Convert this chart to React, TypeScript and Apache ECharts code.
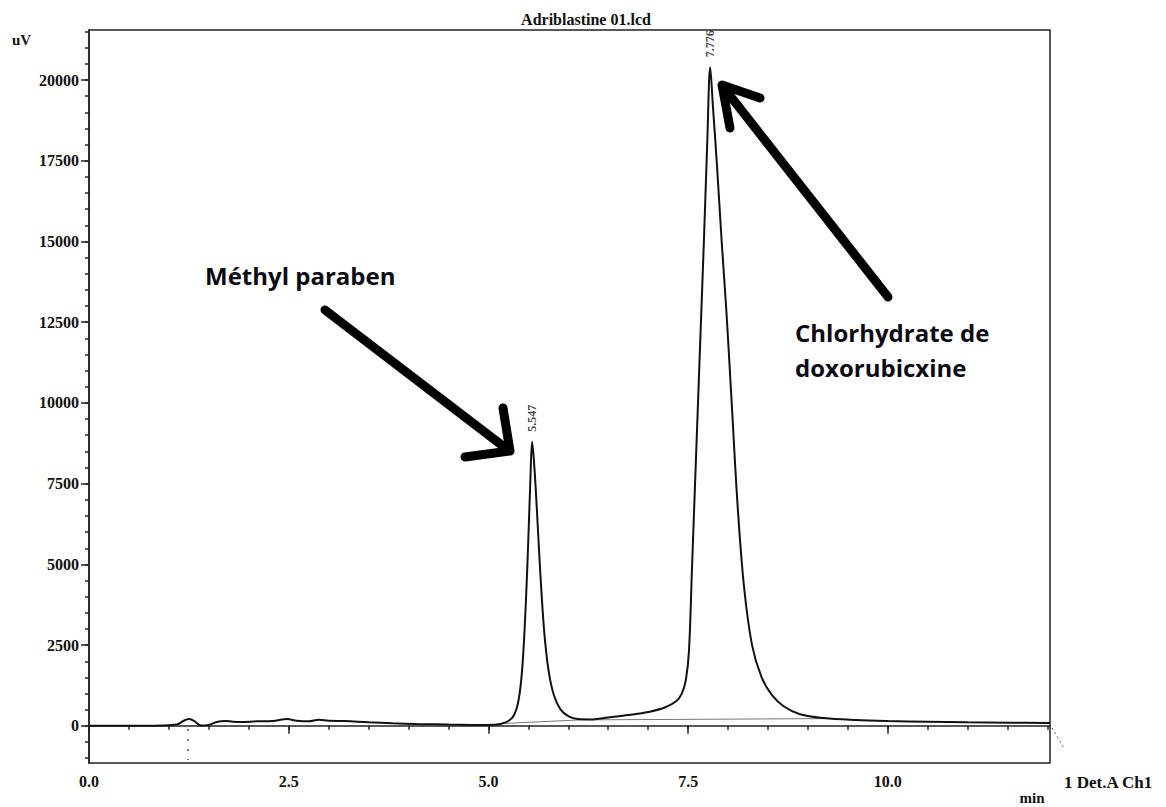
import React, { useEffect, useRef } from "react";
import * as echarts from "echarts";

const times = [0, 0.3, 0.6, 0.9, 1.1, 1.18, 1.25, 1.32, 1.4, 1.5, 1.6, 1.7, 1.8, 1.9, 2.1, 2.3, 2.48, 2.6, 2.75, 2.88, 3.0, 3.2, 3.5, 3.8, 4.1, 4.5, 4.8, 5.0, 5.15, 5.25, 5.32, 5.37, 5.41, 5.44, 5.47, 5.50, 5.525, 5.547, 5.57, 5.60, 5.63, 5.67, 5.71, 5.76, 5.82, 5.90, 6.00, 6.12, 6.3, 6.5, 6.8, 7.0, 7.2, 7.35, 7.42, 7.47, 7.51, 7.55, 7.60, 7.65, 7.70, 7.74, 7.776, 7.81, 7.86, 7.92, 7.98, 8.05, 8.12, 8.20, 8.30, 8.42, 8.55, 8.70, 8.90, 9.2, 9.6, 10.0, 10.5, 11.0, 11.5, 12.03];
const signal = [0, 5, 0, 10, 40, 150, 210, 150, 10, 30, 120, 150, 130, 120, 140, 150, 210, 160, 140, 190, 160, 150, 110, 80, 60, 40, 30, 25, 60, 150, 330, 700, 1400, 2400, 3900, 5800, 7600, 8800, 8200, 7000, 5600, 3900, 2600, 1600, 950, 520, 300, 210, 200, 260, 350, 430, 560, 760, 1000, 1400, 2300, 5000, 8400, 11800, 15200, 18100, 20400, 19200, 17400, 15000, 12800, 9800, 6800, 4300, 2500, 1500, 950, 600, 360, 240, 180, 150, 130, 110, 100, 90];

const baselineTimes = [5.15, 6.15, 9.3];
const baselineValues = [70, 185, 225];

const peakTimes = [5.547, 7.776];
const peakHeights = [8800, 20400];
const peakLabels = ["5.547", "7.776"];

const xLabelValues = [0, 2.5, 5, 7.5, 10];
const yLabelValues = [0, 2500, 5000, 7500, 10000, 12500, 15000, 17500, 20000];
const xMinorTicks = [0, 0.5, 1, 1.5, 2, 2.5, 3, 3.5, 4, 4.5, 5, 5.5, 6, 6.5, 7, 7.5, 8, 8.5, 9, 9.5, 10, 10.5, 11, 11.5, 12];
const yMinorTicks = [-1000, -500, 0, 500, 1000, 1500, 2000, 2500, 3000, 3500, 4000, 4500, 5000, 5500, 6000, 6500, 7000, 7500, 8000, 8500, 9000, 9500, 10000, 10500, 11000, 11500, 12000, 12500, 13000, 13500, 14000, 14500, 15000, 15500, 16000, 16500, 17000, 17500, 18000, 18500, 19000, 19500, 20000, 20500, 21000, 21500];

const SERIF = "'Liberation Serif', 'Times New Roman', serif";
const SANS = "'Open Sans', 'Noto Sans', sans-serif";

export default function App() {
  const ref = useRef<HTMLDivElement>(null);
  useEffect(() => {
    document.body.style.margin = "0";
    const chart = echarts.init(ref.current!, undefined, { renderer: "svg" });
    const axisColor = "#222";
    const tickFont = { fontFamily: SERIF, fontWeight: "bold" as const, fontSize: 16, color: "#111" };
    const xRange = { min: 0, max: 12.03 };
    const yRange = { min: -1150, max: 21550 };
    chart.setOption({
      animation: false,
      backgroundColor: "#fff",
      grid: { left: 89, right: 116, top: 30, bottom: 44, show: true, borderColor: axisColor, borderWidth: 1.5, backgroundColor: "transparent" },
      xAxis: [
        {
          type: "value", ...xRange,
          axisLine: { show: true, lineStyle: { color: axisColor, width: 1.5 } },
          axisTick: { show: true, customValues: xMinorTicks, length: 4, lineStyle: { color: axisColor, width: 1.5 } },
          axisLabel: { show: true, customValues: xLabelValues, formatter: (v: number) => v.toFixed(1), margin: 10, ...tickFont },
          splitLine: { show: false },
        },
        {
          type: "value", ...xRange, position: "bottom",
          axisLine: { show: false },
          axisTick: { show: true, customValues: xLabelValues, length: 8, lineStyle: { color: axisColor, width: 1.5 } },
          axisLabel: { show: false },
          splitLine: { show: false },
        },
      ],
      yAxis: [
        {
          type: "value", ...yRange,
          axisLine: { show: true, lineStyle: { color: axisColor, width: 1.5 } },
          axisTick: { show: true, customValues: yMinorTicks, length: 4, lineStyle: { color: axisColor, width: 1.5 } },
          axisLabel: { show: true, customValues: yLabelValues, formatter: (v: number) => String(v), margin: 10, ...tickFont },
          splitLine: { show: false },
        },
        {
          type: "value", ...yRange, position: "left",
          axisLine: { show: false },
          axisTick: { show: true, customValues: yLabelValues, length: 8, lineStyle: { color: axisColor, width: 1.5 } },
          axisLabel: { show: false },
          splitLine: { show: false },
        },
      ],
      series: [
        {
          type: "line",
          data: baselineTimes.map((t, i) => [t, baselineValues[i]]),
          symbol: "none",
          lineStyle: { color: "#777", width: 1 },
          z: 1,
        },
        {
          type: "line",
          data: times.map((t, i) => [t, signal[i]]),
          symbol: "none",
          smooth: 0.35,
          lineStyle: { color: "#111", width: 2 },
          z: 3,
        },
        {
          type: "scatter",
          data: peakTimes.map((t, i) => [t, peakHeights[i]]),
          symbolSize: 0,
          label: {
            show: true,
            position: "top",
            distance: 2,
            rotate: 90,
            align: "left",
            verticalAlign: "middle",
            offset: [8, 0],
            formatter: (p: any) => peakLabels[p.dataIndex],
            fontFamily: SERIF,
            fontWeight: "bold",
            fontSize: 12,
            color: "#111",
          },
          z: 4,
        },
      ],
      graphic: [
        { type: "text", x: 586, y: 19, style: { text: "Adriblastine 01.lcd", align: "center", verticalAlign: "middle", font: `bold 16px ${SERIF}`, fill: "#111" } },
        { type: "text", x: 12, y: 40, style: { text: "uV", verticalAlign: "middle", font: `bold 15px ${SERIF}`, fill: "#111" } },
        { type: "text", x: 1032, y: 798, style: { text: "min", align: "center", verticalAlign: "middle", font: `bold 15px ${SERIF}`, fill: "#111" } },
        { type: "text", x: 1064, y: 782, style: { text: "1 Det.A Ch1", verticalAlign: "middle", font: `bold 17px ${SERIF}`, fill: "#111" } },
        { type: "line", shape: { x1: 1052, y1: 728, x2: 1064, y2: 748 }, style: { stroke: "#555", lineWidth: 1, lineDash: [2, 3] } },
        { type: "line", shape: { x1: 188, y1: 729, x2: 188, y2: 760 }, style: { stroke: "#555", lineWidth: 1.5, lineDash: [2, 8] } },
        { type: "text", x: 205, y: 275, style: { text: "Méthyl paraben", verticalAlign: "middle", font: `bold 24px ${SANS}`, fill: "#0a0a14" } },
        { type: "text", x: 795, y: 332, style: { text: "Chlorhydrate de", verticalAlign: "middle", font: `bold 24px ${SANS}`, fill: "#0a0a14" } },
        { type: "text", x: 795, y: 367, style: { text: "doxorubicxine", verticalAlign: "middle", font: `bold 24px ${SANS}`, fill: "#0a0a14" } },
        { type: "polyline", shape: { points: [[325, 310], [508, 450]] }, style: { stroke: "#000", lineWidth: 9, lineCap: "round", lineJoin: "round", fill: "none" } },
        { type: "polyline", shape: { points: [[503, 408], [510, 451], [465, 457]] }, style: { stroke: "#000", lineWidth: 9, lineCap: "round", lineJoin: "round", fill: "none" } },
        { type: "polyline", shape: { points: [[888, 297], [724, 88]] }, style: { stroke: "#000", lineWidth: 9, lineCap: "round", lineJoin: "round", fill: "none" } },
        { type: "polyline", shape: { points: [[760, 98], [722, 85], [730, 128]] }, style: { stroke: "#000", lineWidth: 9, lineCap: "round", lineJoin: "round", fill: "none" } },
      ],
    });
    return () => chart.dispose();
  }, []);
  return <div ref={ref} style={{ width: 1166, height: 807 }} />;
}
